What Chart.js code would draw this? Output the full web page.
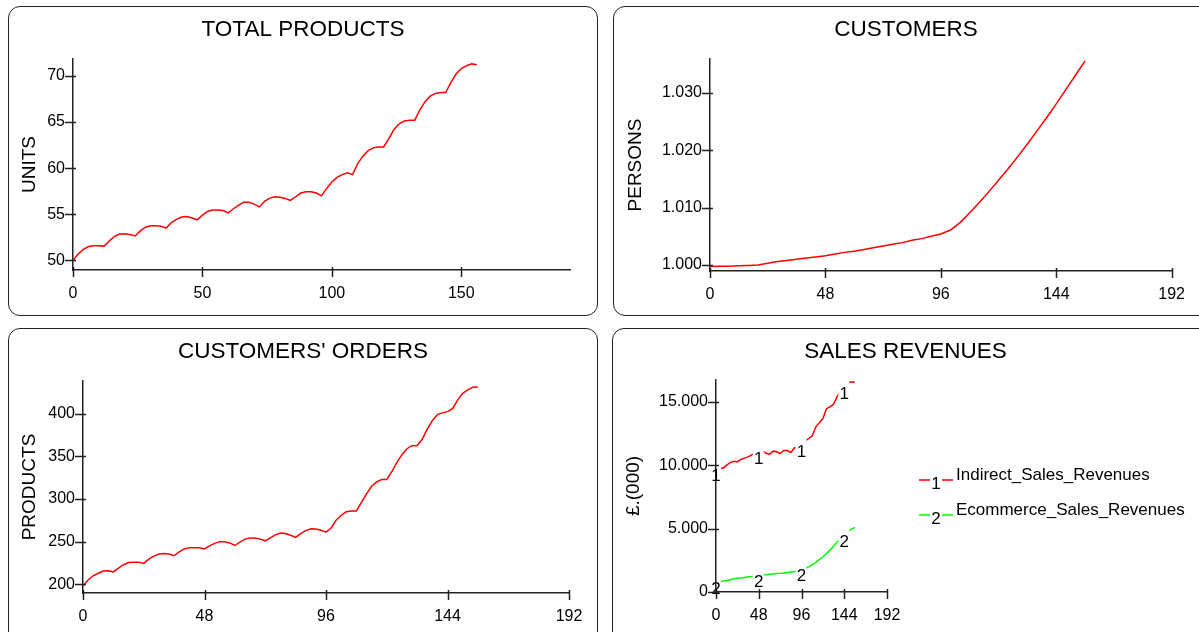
<!DOCTYPE html>
<html>
<head>
<meta charset="utf-8">
<script src="https://cdn.jsdelivr.net/npm/chart.js@4.4.0/dist/chart.umd.min.js"></script>
<style>
  html, body { margin: 0; padding: 0; background: #fff; overflow: hidden; }
  body { width: 1199px; height: 632px; position: relative; }
  .panel { position: absolute; box-sizing: border-box; border: 1.5px solid #222; border-radius: 12px; }
  canvas { position: absolute; }
</style>
</head>
<body>
<div class="panel" style="left:8px;top:6px;width:590px;height:310px"></div>
<div class="panel" style="left:613px;top:6px;width:600px;height:310px"></div>
<div class="panel" style="left:8px;top:328px;width:590px;height:320px"></div>
<div class="panel" style="left:612px;top:328px;width:600px;height:320px"></div>

<canvas id="total-products-chart" width="590" height="310" style="left:8px;top:6px"></canvas>
<canvas id="customers-chart" width="586" height="310" style="left:613px;top:6px"></canvas>
<canvas id="orders-chart" width="590" height="304" style="left:8px;top:328px"></canvas>
<canvas id="sales-chart" width="587" height="304" style="left:612px;top:328px"></canvas>

<script>
// time axis (months)
const timeBy2 = [0, 2, 4, 6, 8, 10, 12, 14, 16, 18, 20, 22, 24, 26, 28, 30, 32, 34, 36, 38,
  40, 42, 44, 46, 48, 50, 52, 54, 56, 58, 60, 62, 64, 66, 68, 70, 72, 74, 76, 78,
  80, 82, 84, 86, 88, 90, 92, 94, 96, 98, 100, 102, 104, 106, 108, 110, 112, 114, 116, 118,
  120, 122, 124, 126, 128, 130, 132, 134, 136, 138, 140, 142, 144, 146, 148, 150, 152, 154, 156];
const timeBy4 = [0, 4, 8, 12, 16, 20, 24, 28, 32, 36, 40, 44, 48, 52, 56, 60, 64, 68, 72, 76,
  80, 84, 88, 92, 96, 100, 104, 108, 112, 116, 120, 124, 128, 132, 136, 140, 144, 148, 152, 156];

// series values
const totalProducts = [50.0, 50.7, 51.2, 51.5, 51.6, 51.6, 51.55,
  52.1, 52.6, 52.85, 52.9, 52.8, 52.65,
  53.2, 53.6, 53.75, 53.75, 53.7, 53.5,
  54.1, 54.45, 54.7, 54.75, 54.6, 54.4,
  54.9, 55.3, 55.45, 55.45, 55.4, 55.15,
  55.6, 56.0, 56.3, 56.3, 56.1, 55.8,
  56.4, 56.75, 56.9, 56.85, 56.7, 56.5,
  56.9, 57.3, 57.45, 57.45, 57.3, 57.0,
  57.8, 58.5, 59.0, 59.3, 59.5, 59.3,
  60.5, 61.3, 61.9, 62.2, 62.3, 62.3,
  63.2, 64.2, 64.8, 65.1, 65.2, 65.2,
  66.3, 67.2, 67.8, 68.1, 68.2, 68.2,
  69.3, 70.2, 70.8, 71.1, 71.3, 71.2];

const customers = [999.75, 999.78, 999.8, 999.85, 999.9, 999.98, 1000.3, 1000.6, 1000.8, 1001.0,
  1001.2, 1001.4, 1001.6, 1001.9, 1002.2, 1002.4, 1002.7, 1003.0, 1003.3, 1003.6,
  1003.9, 1004.3, 1004.6, 1005.0, 1005.4, 1006.1, 1007.4, 1009.1, 1010.9, 1012.8,
  1014.8, 1016.8, 1018.9, 1021.1, 1023.4, 1025.7, 1028.1, 1030.6, 1033.1, 1035.6];

const customerOrders = [198, 205, 210, 213, 215.5, 215.8, 214.5,
  219, 223, 225.5, 226, 225.8, 224.5,
  229.5, 233, 235.5, 236, 235.5, 233.5,
  238, 241.5, 243, 243, 242.8, 241.5,
  245, 248, 250, 250, 248.5, 245.5,
  249.5, 253, 254.2, 254.2, 253, 251,
  254.5, 258, 260, 259.5, 257.5, 255,
  259.5, 263, 265, 264.8, 263.5, 261.2,
  266, 275, 281, 285, 286, 286,
  296, 306, 315, 320, 323, 323,
  332, 343, 352, 359, 362.5, 362.8,
  370, 382, 392, 399, 401, 402.5,
  406, 416, 424, 428, 431, 431.5];

const indirectSales = [9700, 9750, 9760, 10000, 10200, 10300, 10250, 10450, 10550, 10650,
  10800, 10950, 11000, 11100, 10950, 10850, 11100, 11050, 10900, 11150,
  11150, 11000, 11350, 11450, 11600, 11900, 12100, 12300, 13000, 13350,
  13650, 14450, 14600, 14800, 15400, 15850, 16100, 16500, 16550, 16550];

const ecommerceSales = [800, 830, 860, 900, 960, 1040, 1080, 1110, 1150, 1200,
  1230, 1270, 1300, 1330, 1360, 1390, 1420, 1450, 1470, 1500,
  1540, 1580, 1620, 1680, 1760, 1850, 1980, 2150, 2330, 2550,
  2780, 3030, 3300, 3600, 3950, 4250, 4500, 4780, 4950, 5100];

// tick labels
const productsTicksX = [0, 50, 100, 150];
const monthTicksX = [0, 48, 96, 144, 192];
const productsTicksY = [50, 55, 60, 65, 70];
const customersTicksY = [1000, 1010, 1020, 1030];
const ordersTicksY = [200, 250, 300, 350, 400];
const salesTicksY = [0, 5000, 10000, 15000];
const salesLabelTimes = [0, 48, 96, 144];
const salesNames = ['Indirect_Sales_Revenues', 'Ecommerce_Sales_Revenues'];

Chart.defaults.font.family = '"Liberation Sans", Arial, sans-serif';
Chart.defaults.color = '#000';

function dotted(v) {
  return Math.round(v).toString().replace(/\B(?=(\d{3})+(?!\d))/g, '.');
}

function toPoints(times, values) {
  return times.map((t, i) => ({x: t, y: values[i]}));
}

// tick marks that cross the axis line, like the original tool draws them
const crossTicks = {
  id: 'crossTicks',
  afterDraw(chart) {
    const {ctx, chartArea, scales: {x, y}} = chart;
    ctx.save();
    ctx.strokeStyle = '#222';
    ctx.lineWidth = 1.5;
    ctx.beginPath();
    y.ticks.forEach((t) => {
      const py = Math.round(y.getPixelForValue(t.value)) + 0.5;
      ctx.moveTo(chartArea.left - 8, py);
      ctx.lineTo(chartArea.left + 3, py);
    });
    x.ticks.forEach((t) => {
      const px = Math.round(x.getPixelForValue(t.value)) + 0.5;
      ctx.moveTo(px, chartArea.bottom - 3);
      ctx.lineTo(px, chartArea.bottom + 7);
    });
    ctx.stroke();
    ctx.restore();
  }
};

// numbered labels on the sales lines (the line breaks under each number) + legend
const seriesNumbers = {
  id: 'seriesNumbers',
  spots(chart) {
    const {scales: {x, y}} = chart;
    const out = [];
    chart.data.datasets.forEach((ds, i) => {
      salesLabelTimes.forEach((t) => {
        const pt = ds.data.find((d) => d.x === t);
        out.push({x: x.getPixelForValue(t), y: y.getPixelForValue(pt.y), text: String(i + 1)});
      });
    });
    return out;
  },
  beforeDatasetsDraw(chart) {
    const ctx = chart.ctx;
    ctx.save();
    ctx.beginPath();
    ctx.rect(0, 0, chart.width, chart.height);
    this.spots(chart).forEach((s) => ctx.rect(s.x - 6, s.y - 8, 11, 24));
    ctx.clip('evenodd');
  },
  afterDatasetsDraw(chart) {
    const ctx = chart.ctx;
    ctx.restore();
    ctx.save();
    ctx.fillStyle = '#000';
    ctx.font = '17px "Liberation Sans", Arial, sans-serif';
    ctx.textAlign = 'center';
    ctx.textBaseline = 'middle';
    this.spots(chart).forEach((s) => ctx.fillText(s.text, s.x, s.y + 7));
    ctx.restore();
  },
  afterDraw(chart) {
    const ctx = chart.ctx;
    ctx.save();
    ctx.font = '17px "Liberation Sans", Arial, sans-serif';
    ctx.textBaseline = 'middle';
    chart.data.datasets.forEach((ds, i) => {
      const ly = 152 + i * 35;
      ctx.strokeStyle = ds.borderColor;
      ctx.lineWidth = 1.5;
      ctx.beginPath();
      ctx.moveTo(307, ly); ctx.lineTo(318, ly);
      ctx.moveTo(330, ly); ctx.lineTo(341, ly);
      ctx.stroke();
      ctx.fillStyle = '#000';
      ctx.textAlign = 'center';
      ctx.fillText(String(i + 1), 324, ly + 4);
      ctx.textAlign = 'left';
      ctx.fillText(salesNames[i], 344, ly - 5);
    });
    ctx.restore();
  }
};

function makeChart(id, cfg) {
  const canvas = document.getElementById(id);
  const W = canvas.width, H = canvas.height;
  const titleLine = 22.5 * 1.2;
  return new Chart(canvas.getContext('2d'), {
    type: 'line',
    data: {datasets: cfg.datasets},
    options: {
      responsive: false,
      animation: false,
      devicePixelRatio: 1,
      events: [],
      layout: {padding: 0},
      elements: {point: {radius: 0}, line: {borderWidth: 1.5, tension: 0}},
      plugins: {
        legend: {display: false},
        tooltip: {enabled: false},
        title: {
          display: true,
          text: cfg.title,
          color: '#000',
          font: {size: 22.5, weight: 'normal'},
          padding: {top: cfg.titleY - titleLine / 2, bottom: cfg.area.top - (cfg.titleY + titleLine / 2)}
        }
      },
      scales: {
        x: {
          type: 'linear',
          min: 0,
          max: 192,
          grid: {display: false, drawTicks: false},
          border: {display: true, color: '#222', width: 1.5},
          ticks: {font: {size: 16}, padding: 14, color: '#000'},
          afterBuildTicks: (s) => { s.ticks = cfg.xTicks.map((v) => ({value: v})); },
          afterFit: (s) => { s.height = H - cfg.area.bottom; }
        },
        y: {
          min: cfg.yMin,
          max: cfg.yMax,
          grid: {display: false, drawTicks: false},
          border: {display: true, color: '#222', width: 1.5},
          ticks: {font: {size: 16}, padding: 8, color: '#000', callback: cfg.fmt || ((v) => v)},
          title: {display: true, text: cfg.yTitle, color: '#000', font: {size: 19}, padding: {top: cfg.yTitleX - 11.4, bottom: 0}},
          afterBuildTicks: (s) => { s.ticks = cfg.yTicks.map((v) => ({value: v})); },
          afterFit: (s) => { s.width = cfg.area.left; }
        },
        // empty right-hand spacer so the title stays centred on the whole panel
        spacer: {
          position: 'right',
          grid: {display: false, drawTicks: false},
          border: {display: false},
          ticks: {display: false},
          afterFit: (s) => { s.width = W - cfg.area.right; }
        }
      }
    },
    plugins: [crossTicks].concat(cfg.plugins || [])
  });
}

makeChart('total-products-chart', {
  title: 'TOTAL PRODUCTS',
  titleY: 24,
  yTitle: 'UNITS',
  yTitleX: 22,
  area: {left: 65, right: 562, top: 53, bottom: 264},
  yMin: 48.96, yMax: 71.83,
  xTicks: productsTicksX,
  yTicks: productsTicksY,
  datasets: [{data: toPoints(timeBy2, totalProducts), borderColor: '#ff0000'}]
});

makeChart('customers-chart', {
  title: 'CUSTOMERS',
  titleY: 24,
  yTitle: 'PERSONS',
  yTitleX: 23,
  area: {left: 97, right: 564, top: 53, bottom: 265},
  yMin: 998.95, yMax: 1035.94,
  xTicks: monthTicksX,
  yTicks: customersTicksY,
  fmt: dotted,
  datasets: [{data: toPoints(timeBy4, customers), borderColor: '#ff0000'}]
});

makeChart('orders-chart', {
  title: "CUSTOMERS' ORDERS",
  titleY: 24,
  yTitle: 'PRODUCTS',
  yTitleX: 22,
  area: {left: 75, right: 561, top: 53, bottom: 265},
  yMin: 189.8, yMax: 438.4,
  xTicks: monthTicksX,
  yTicks: ordersTicksY,
  datasets: [{data: toPoints(timeBy2, customerOrders), borderColor: '#ff0000'}]
});

makeChart('sales-chart', {
  title: 'SALES REVENUES',
  titleY: 24,
  yTitle: '£.(000)',
  yTitleX: 22,
  area: {left: 104, right: 275, top: 52, bottom: 264},
  yMin: 0, yMax: 16710,
  xTicks: monthTicksX,
  yTicks: salesTicksY,
  fmt: dotted,
  plugins: [seriesNumbers],
  datasets: [
    {data: toPoints(timeBy4, indirectSales), borderColor: '#ff0000'},
    {data: toPoints(timeBy4, ecommerceSales), borderColor: '#00ff00'}
  ]
});
</script>
</body>
</html>
